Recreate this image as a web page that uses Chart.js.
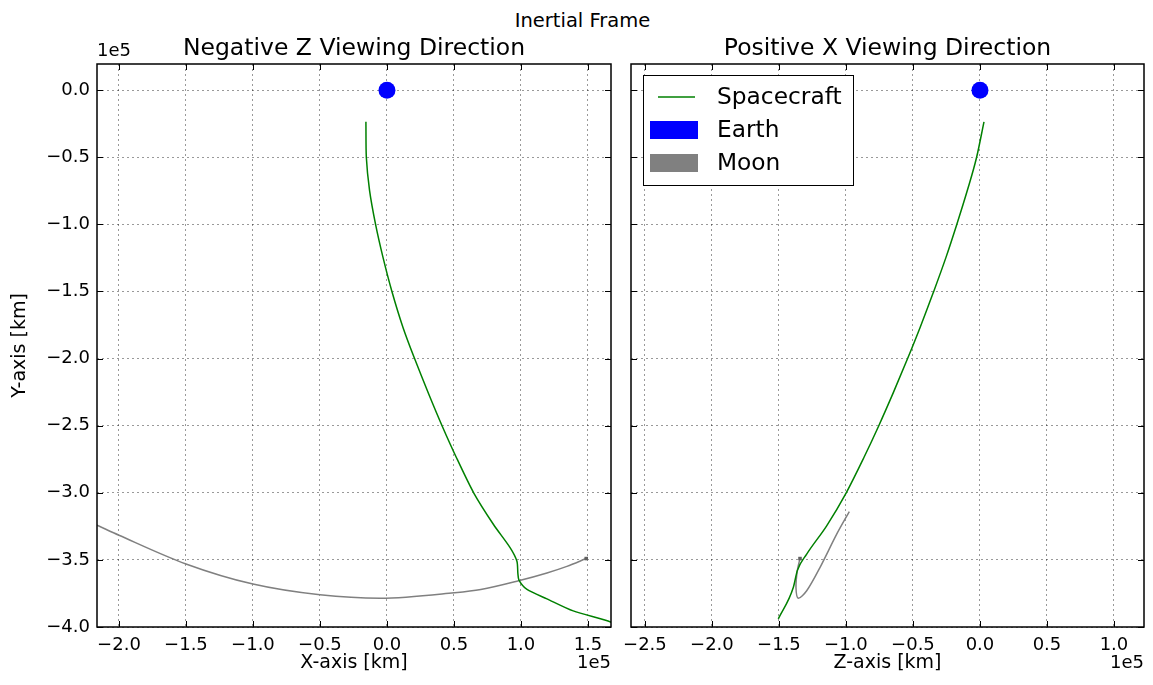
<!DOCTYPE html>
<html>
<head>
<meta charset="utf-8">
<title>Inertial Frame</title>
<script src="https://cdn.jsdelivr.net/npm/chart.js@4.4.1/dist/chart.umd.min.js"></script>
<style>
  html, body { margin: 0; padding: 0; background: #fff; }
  #page { position: relative; width: 1153px; height: 685px; overflow: hidden; font-family: "DejaVu Sans", sans-serif; }
  #suptitle { position: absolute; left: 6px; top: 9px; width: 1153px; text-align: center; font-size: 19.5px; color: #000; }
  canvas { position: absolute; left: 0; top: 0; }
</style>
</head>
<body>
<div id="page">
  <div id="suptitle">Inertial Frame</div>
  <canvas id="negZ" width="1153" height="685"></canvas>
  <canvas id="posX" width="1153" height="685"></canvas>
</div>
<script>
// positions are in units of 1e5 km

const xTicks = [-2.0, -1.5, -1.0, -0.5, 0.0, 0.5, 1.0, 1.5];
const zTicks = [-2.5, -2.0, -1.5, -1.0, -0.5, 0.0, 0.5, 1.0];
const yTicks = [0.0, -0.5, -1.0, -1.5, -2.0, -2.5, -3.0, -3.5, -4.0];

// spacecraft seen along -Z (x, y)
const craftX = [-0.157, -0.154, -0.13, -0.085, -0.03, 0.037, 0.119, 0.206, 0.31, 0.411, 0.518, 0.647, 0.795, 0.92, 0.97, 0.977, 0.985, 1.045, 1.194, 1.39, 1.65, 1.75];
const craftXY = [-0.236, -0.5, -0.746, -1.0, -1.244, -1.5, -1.766, -2.0, -2.26, -2.5, -2.737, -3.0, -3.236, -3.41, -3.51, -3.60, -3.65, -3.72, -3.79, -3.88, -3.955, -4.0];

// spacecraft seen along +X (z, y)
const craftZ = [0.03, -0.025, -0.094, -0.176, -0.253, -0.349, -0.446, -0.54, -0.645, -0.755, -0.866, -0.998, -1.144, -1.293, -1.363, -1.393, -1.505];
const craftZY = [-0.236, -0.5, -0.746, -1.01, -1.244, -1.51, -1.766, -2.0, -2.25, -2.5, -2.737, -3.0, -3.246, -3.457, -3.58, -3.706, -3.94];

// moon track, last entry is its final position
const moonX = [-2.3, -2.154, -2.0, -1.5, -1.0, -0.5, -0.05, 0.5, 0.7, 0.982, 1.194, 1.343, 1.487];
const moonXY = [-3.18, -3.246, -3.316, -3.53, -3.68, -3.76, -3.786, -3.745, -3.72, -3.655, -3.597, -3.548, -3.49];
const moonZ = [-0.975, -1.07, -1.194, -1.293, -1.356, -1.373, -1.363, -1.343];
const moonZY = [-3.14, -3.31, -3.557, -3.73, -3.786, -3.706, -3.58, -3.49];

const earthPos = [0.0, 0.0];

const legendLabels = ['Spacecraft', 'Earth', 'Moon'];

const FONT = '"DejaVu Sans", sans-serif';
const GREEN = '#008000';
const BLUE = '#0000ff';
const GRAY = '#808080';

function zip(xs, ys) {
    return xs.map((v, i) => ({ x: v, y: ys[i] }));
}

function fmt(v) {
    return v.toFixed(1).replace('-', '\u2212');
}

// title, offset text, inward ticks and box around the axes
const panelDecor = {
    id: 'panelDecor',
    afterDatasetsDraw(chart, args, opts) {
        const { ctx, chartArea: a, scales: { x, y } } = chart;
        ctx.save();
        ctx.strokeStyle = '#000';
        ctx.lineWidth = 1;
        ctx.beginPath();
        x.ticks.forEach(t => {
            const px = Math.round(x.getPixelForValue(t.value)) + 0.5;
            ctx.moveTo(px, a.bottom); ctx.lineTo(px, a.bottom - 6);
            ctx.moveTo(px, a.top); ctx.lineTo(px, a.top + 6);
        });
        y.ticks.forEach(t => {
            const py = Math.round(y.getPixelForValue(t.value)) + 0.5;
            ctx.moveTo(a.left, py); ctx.lineTo(a.left + 6, py);
            ctx.moveTo(a.right, py); ctx.lineTo(a.right - 6, py);
        });
        ctx.stroke();
        ctx.lineWidth = 1.5;
        ctx.strokeRect(a.left, a.top, a.right - a.left, a.bottom - a.top);

        ctx.fillStyle = '#000';
        ctx.font = '23.5px ' + FONT;
        ctx.textAlign = 'center';
        ctx.textBaseline = 'middle';
        ctx.fillText(opts.title, (a.left + a.right) / 2, 49);
        ctx.font = '18px ' + FONT;
        ctx.textAlign = 'right';
        ctx.fillText('1e5', a.right, 663);
        if (opts.yOffset) {
            ctx.textAlign = 'left';
            ctx.fillText('1e5', a.left, 51);
        }
        ctx.restore();
    }
};

// legend box in the upper left corner of the axes
const boxLegend = {
    id: 'boxLegend',
    afterDraw(chart, args, opts) {
        if (!opts.show) return;
        const { ctx, chartArea: a } = chart;
        const left = a.left + 12, top = a.top + 11;
        ctx.save();
        ctx.fillStyle = '#fff';
        ctx.fillRect(left, top, 210, 110);
        ctx.strokeStyle = '#000';
        ctx.lineWidth = 1;
        ctx.strokeRect(left + 0.5, top + 0.5, 210, 110);
        const kinds = ['line', 'patch', 'patch'];
        const colors = [GREEN, BLUE, GRAY];
        legendLabels.forEach((label, i) => {
            const cy = top + 22 + i * 33;
            if (kinds[i] === 'line') {
                ctx.strokeStyle = colors[i];
                ctx.lineWidth = 1.5;
                ctx.beginPath();
                ctx.moveTo(left + 15, cy);
                ctx.lineTo(left + 52, cy);
                ctx.stroke();
            } else {
                ctx.fillStyle = colors[i];
                ctx.fillRect(left + 7, cy - 9, 48, 18);
            }
            ctx.fillStyle = '#000';
            ctx.font = '23.3px ' + FONT;
            ctx.textAlign = 'left';
            ctx.textBaseline = 'middle';
            ctx.fillText(label, left + 74, cy + 1);
        });
        ctx.restore();
    }
};

function makePanel(canvasId, cfg) {
    const ctx = document.getElementById(canvasId).getContext('2d');
    return new Chart(ctx, {
        type: 'scatter',
        data: {
            datasets: [
                {
                    label: 'Earth',
                    data: [{ x: earthPos[0], y: earthPos[1] }],
                    pointRadius: 8.5,
                    pointBackgroundColor: BLUE,
                    pointBorderWidth: 0
                },
                {
                    label: 'Spacecraft',
                    data: cfg.craft,
                    showLine: true,
                    borderColor: GREEN,
                    borderWidth: 1.5,
                    pointRadius: 0,
                    cubicInterpolationMode: cfg.craftMonotone ? 'monotone' : 'default',
                    tension: 0.25
                },
                {
                    label: 'Moon position',
                    data: [cfg.moon[cfg.moon.length - 1]],
                    pointRadius: 2.5,
                    pointStyle: 'rect',
                    pointBackgroundColor: '#606060',
                    pointBorderWidth: 0
                },
                {
                    label: 'Moon',
                    data: cfg.moon,
                    showLine: true,
                    borderColor: GRAY,
                    borderWidth: 1.5,
                    pointRadius: 0,
                    // the +X view folds back on itself, so only the -Z view is monotone in x
                    cubicInterpolationMode: cfg.moonMonotone ? 'monotone' : 'default',
                    tension: 0.3
                }
            ]
        },
        options: {
            responsive: false,
            animation: false,
            events: [],
            layout: {
                autoPadding: false,
                padding: { top: 64, right: 1153 - cfg.right, bottom: 0, left: 0 }
            },
            plugins: {
                legend: { display: false },
                tooltip: { enabled: false },
                panelDecor: { title: cfg.title, yOffset: cfg.yLabels },
                boxLegend: { show: cfg.legend }
            },
            scales: {
                x: {
                    type: 'linear',
                    min: cfg.xMin,
                    max: cfg.xMax,
                    afterBuildTicks: s => { s.ticks = cfg.xTicks.map(v => ({ value: v })); },
                    afterFit: s => { s.height = 58; },
                    grid: { color: 'rgba(0,0,0,0.4)', lineWidth: 1, drawTicks: false },
                    border: { display: false, dash: [2, 3] },
                    ticks: {
                        color: '#000',
                        padding: 8,
                        maxRotation: 0,
                        autoSkip: false,
                        font: { family: FONT, size: 18 },
                        callback: v => fmt(v)
                    },
                    title: {
                        display: true,
                        text: cfg.xLabel,
                        color: '#000',
                        font: { family: FONT, size: 19 },
                        padding: { top: 11, bottom: 11 }
                    }
                },
                y: {
                    type: 'linear',
                    min: -4.0,
                    max: 0.195,
                    afterBuildTicks: s => { s.ticks = yTicks.map(v => ({ value: v })); },
                    afterFit: s => { s.width = cfg.left; },
                    grid: { color: 'rgba(0,0,0,0.4)', lineWidth: 1, drawTicks: false },
                    border: { display: false, dash: [2, 3] },
                    ticks: {
                        display: cfg.yLabels,
                        color: '#000',
                        padding: 7,
                        autoSkip: false,
                        font: { family: FONT, size: 18 },
                        callback: v => fmt(v)
                    },
                    title: {
                        display: cfg.yLabels,
                        text: 'Y-axis [km]',
                        color: '#000',
                        font: { family: FONT, size: 19 },
                        padding: { top: 9, bottom: 9 }
                    }
                }
            }
        },
        plugins: [panelDecor, boxLegend]
    });
}

makePanel('negZ', {
    title: 'Negative Z Viewing Direction',
    xLabel: 'X-axis [km]',
    left: 97, right: 611,
    xMin: -2.164, xMax: 1.672,
    xTicks: xTicks,
    yLabels: true,
    legend: false,
    craftMonotone: false,
    moonMonotone: true,
    craft: zip(craftX, craftXY),
    moon: zip(moonX, moonXY)
});

makePanel('posX', {
    title: 'Positive X Viewing Direction',
    xLabel: 'Z-axis [km]',
    left: 631, right: 1144,
    xMin: -2.604, xMax: 1.224,
    xTicks: zTicks,
    yLabels: false,
    legend: true,
    craftMonotone: true,
    moonMonotone: false,
    craft: zip(craftZ, craftZY),
    moon: zip(moonZ, moonZY)
});
</script>
</body>
</html>
